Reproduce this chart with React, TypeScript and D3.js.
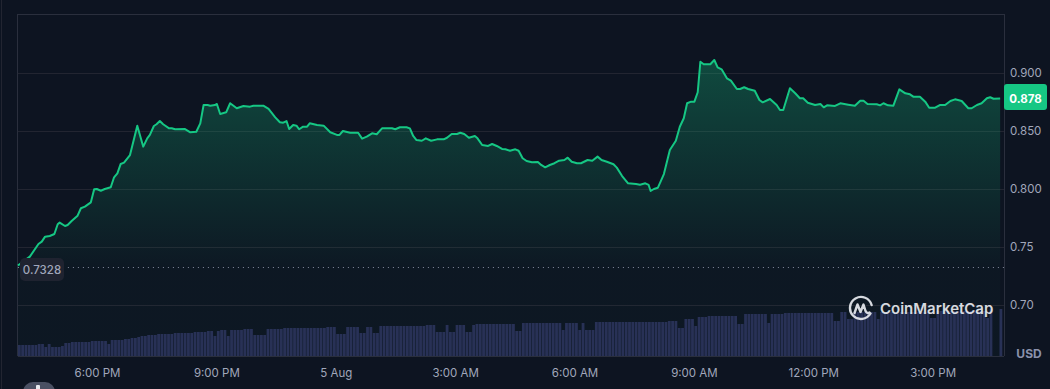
import * as d3 from 'd3';

const START = new Date(2024, 7, 4, 16, 0);

// minutes after 4:00 PM, price in USD
const priceMinutes = [
  0, 6, 18, 31, 36, 41, 48, 55, 60, 63, 71, 75, 81, 90, 95, 101, 110, 115, 119, 125,
  131, 140, 145, 150, 155, 160, 169, 180, 189, 195, 199, 205, 209, 214, 219, 228, 232, 237, 252, 260,
  269, 275, 280, 286, 290, 297,
  300, 305, 314, 320, 330, 340, 350, 355, 370, 378, 388, 395, 400, 405, 409, 415, 420, 424, 430, 436,
  440, 451, 461, 471, 481, 485, 490, 501, 513, 519, 526, 534, 541, 549, 556, 564, 569, 576, 586, 591,
  596, 601, 609, 615, 623, 632, 642, 647, 654, 662, 667, 673, 680, 689, 693, 700, 709, 715, 722, 730,
  735, 742, 750, 755, 761, 767, 775, 784, 789, 795, 802, 809, 816, 824, 829, 835, 843, 849, 859, 866,
  874, 880,
  888, 898, 903, 911, 920, 932, 938, 946, 951, 954, 959, 965, 974, 983, 992, 998, 1004, 1009, 1015, 1020,
  1025, 1029, 1034, 1044, 1050, 1055, 1061, 1069, 1075, 1084, 1089, 1095, 1101, 1111, 1118, 1123, 1134, 1144, 1149, 1154,
  1164, 1172,
  1179, 1184, 1191, 1202, 1210, 1215, 1220, 1232, 1240, 1252, 1262, 1270, 1275, 1281, 1295, 1300, 1305, 1312, 1320, 1329,
  1338, 1345, 1350, 1360, 1368, 1374, 1383, 1390, 1398, 1406, 1413, 1423, 1433, 1438, 1446, 1453, 1461, 1466, 1471, 1481,
];

const priceValues = [
  0.7340, 0.7365, 0.7417, 0.7526, 0.7546, 0.7589, 0.7595, 0.7612, 0.7696, 0.7710,
  0.7681, 0.7690, 0.7724, 0.7770, 0.7834, 0.7848, 0.7885, 0.7997, 0.8000, 0.7985,
  0.8000, 0.8015, 0.8101, 0.8135, 0.8216, 0.8227, 0.8293, 0.8546, 0.8365, 0.8437,
  0.8466, 0.8543, 0.8558, 0.8586, 0.8558, 0.8523, 0.8523, 0.8515, 0.8517, 0.8489,
  0.8494, 0.8566, 0.8724, 0.8724, 0.8718, 0.8724,
  0.8733, 0.8647, 0.8661, 0.8739, 0.8696, 0.8716, 0.8710, 0.8718, 0.8718, 0.8690,
  0.8618, 0.8575, 0.8572, 0.8586, 0.8517, 0.8552, 0.8546, 0.8515, 0.8537, 0.8537,
  0.8566, 0.8552, 0.8546, 0.8489, 0.8466, 0.8466, 0.8500, 0.8485, 0.8485, 0.8434,
  0.8451, 0.8480, 0.8472, 0.8523, 0.8523, 0.8523, 0.8515, 0.8532, 0.8532, 0.8523,
  0.8457, 0.8422, 0.8416, 0.8437, 0.8416, 0.8428, 0.8428, 0.8442, 0.8474, 0.8474,
  0.8485, 0.8474, 0.8442, 0.8457, 0.8437, 0.8379, 0.8371, 0.8388, 0.8371, 0.8345,
  0.8342, 0.8330, 0.8342, 0.8330, 0.8265, 0.8241, 0.8230, 0.8233, 0.8207, 0.8187,
  0.8207, 0.8222, 0.8244, 0.8250, 0.8270, 0.8235, 0.8222, 0.8222, 0.8250, 0.8244,
  0.8279, 0.8250,
  0.8235, 0.8213, 0.8184, 0.8112, 0.8049, 0.8043, 0.8037, 0.8049, 0.8035, 0.7983,
  0.8000, 0.8011, 0.8129, 0.8336, 0.8416, 0.8537, 0.8610, 0.8739, 0.8753, 0.8753,
  0.8834, 0.9097, 0.9075, 0.9075, 0.9112, 0.9049, 0.9032, 0.8954, 0.8934, 0.8862,
  0.8862, 0.8877, 0.8862, 0.8847, 0.8767, 0.8747, 0.8776, 0.8724, 0.8681, 0.8681,
  0.8868, 0.8825,
  0.8782, 0.8782, 0.8744, 0.8724, 0.8733, 0.8704, 0.8721, 0.8716, 0.8739, 0.8727,
  0.8718, 0.8761, 0.8761, 0.8733, 0.8730, 0.8721, 0.8739, 0.8721, 0.8718, 0.8859,
  0.8825, 0.8816, 0.8796, 0.8796, 0.8753, 0.8701, 0.8701, 0.8724, 0.8724, 0.8759,
  0.8773, 0.8759, 0.8696, 0.8696, 0.8724, 0.8739, 0.8782, 0.8791, 0.8778, 0.8780,
];

// 5-minute volume bars, as runs of [number of bars, relative volume]
const volumeRuns = [
  [6, 11], [2, 12], [1, 9], [1, 12], [3, 9], [1, 10], [2, 13], [6, 14], [5, 15], [1, 12],
  [4, 16], [2, 17], [2, 18], [1, 19], [2, 20], [3, 21], [5, 22], [6, 23], [4, 24], [2, 25],
  [1, 20], [1, 25], [2, 26], [1, 20], [4, 26], [3, 27], [4, 21], [5, 27], [13, 28], [3, 29],
  [3, 22], [4, 29], [2, 23], [2, 29], [2, 23], [14, 30], [3, 31], [3, 24], [1, 31], [2, 24],
  [3, 31], [2, 24], [1, 31], [12, 32], [2, 25], [12, 33], [1, 26], [4, 33], [1, 26], [1, 33],
  [3, 26], [22, 34], [3, 35], [2, 28], [3, 37], [1, 30], [3, 39], [9, 40], [2, 32], [7, 42],
  [1, 33], [4, 42], [15, 43], [2, 35], [2, 44], [2, 37], [7, 44], [1, 37], [15, 44], [2, 38],
  [15, 45], [1, 38], [1, 47], [2, 0], [1, 47],
];

const yTicks = [0.9, 0.85, 0.8, 0.75, 0.7];
const yTickLabels = ['0.900', '0.850', '0.800', '0.75', '0.70'];
const openPrice = 0.7328;
const lastPrice = 0.878;

const W = 1050;
const H = 389;
const left = 17.9;
const right = 1004;
const top = 14;
const bottom = 356;

const BG = '#0d1421';
const GREEN = '#16c784';
const GRID = '#222531';
const TEXT = '#a1a7bb';
const FONT = 'Inter, "Noto Sans", sans-serif';

const addMin = (m: number) => new Date(START.getTime() + m * 60000);

export default function App() {
  const x = d3.scaleTime()
    .domain([START, addMin(24.78 * 60)])
    .range([left, right]);
  const y = d3.scaleLinear().domain([0.7, 0.9]).range([305, 73]);
  const yVol = d3.scaleLinear().domain([0, 50]).range([bottom, bottom - 50]);

  const prices = priceMinutes.map((m, i) => ({ t: addMin(m), v: priceValues[i] }));

  const line = d3.line<{ t: Date; v: number }>()
    .x(d => x(d.t))
    .y(d => y(d.v));
  const area = d3.area<{ t: Date; v: number }>()
    .x(d => x(d.t))
    .y0(bottom)
    .y1(d => y(d.v));

  const vols: { t: Date; v: number }[] = [];
  let k = 0;
  volumeRuns.forEach(([n, v]) => {
    for (let j = 0; j < n; j++) {
      vols.push({ t: addMin(k * 5), v });
      k++;
    }
  });
  const barW = x(addMin(5)) - x(START);

  const xTicks = d3.timeHour.every(3)!.range(addMin(60), addMin(24.7 * 60));
  const fmtTick = (d: Date) =>
    d.getHours() === 0 ? d3.timeFormat('%-d %b')(d) : d3.timeFormat('%-I:%M %p')(d);

  return (
    <div style={{ position: 'fixed', left: 0, top: 0, width: W, height: H, background: BG }}>
      <svg width={W} height={H} viewBox={`0 0 ${W} ${H}`} style={{ display: 'block', fontFamily: FONT }}>
        <defs>
          <linearGradient id="areaFill" x1="0" y1="0" x2="0" y2="1" gradientUnits="userSpaceOnUse"
            gradientTransform="" >
          </linearGradient>
          <linearGradient id="fill2" gradientUnits="userSpaceOnUse" x1="0" y1={y(0.91)} x2="0" y2={y(0.73)}>
            <stop offset="0" stopColor={GREEN} stopOpacity={0.3} />
            <stop offset="1" stopColor={GREEN} stopOpacity={0.02} />
          </linearGradient>
        </defs>
        <rect width={W} height={H} fill={BG} />
        <line x1={1.5} x2={1.5} y1={0} y2={H} stroke={GRID} />

        {/* frame */}
        <line x1={left} x2={right} y1={top + 0.5} y2={top + 0.5} stroke="#2a2f3d" />
        <line x1={left - 0.4} x2={left - 0.4} y1={top} y2={bottom} stroke="#2a2f3d" />
        <line x1={right + 0.5} x2={right + 0.5} y1={top} y2={bottom} stroke="#2a2f3d" />
        <line x1={left} x2={right} y1={bottom + 0.5} y2={bottom + 0.5} stroke="#2a2f3d" />

        {yTicks.map(t => (
          <line key={t} x1={left} x2={right} y1={Math.round(y(t)) + 0.5} y2={Math.round(y(t)) + 0.5} stroke={GRID} />
        ))}

        <path d={area(prices) || ''} fill="url(#fill2)" />

        {vols.map((d, i) => (
          d.v > 0 ? (
            <rect key={i} x={x(d.t)} y={yVol(d.v)} width={barW - 0.5} height={bottom - yVol(d.v)} fill="#283156" />
          ) : null
        ))}

        <path d={line(prices) || ''} fill="none" stroke={GREEN} strokeWidth={2} strokeLinejoin="round" />

        <line x1={left} x2={right} y1={Math.round(y(openPrice)) + 0.5} y2={Math.round(y(openPrice)) + 0.5}
          stroke={TEXT} strokeOpacity={0.8} strokeDasharray="1 4" />

        {/* y axis labels */}
        {yTicks.map((t, i) => (
          <text key={t} x={1010} y={y(t)} dy="0.35em" fill={TEXT} fontSize={11.5}>{yTickLabels[i]}</text>
        ))}

        {/* x axis labels */}
        {xTicks.map(d => (
          <text key={+d} x={x(d)} y={373} dy="0.35em" textAnchor="middle" fill={TEXT} fontSize={11.5}>{fmtTick(d)}</text>
        ))}

        {/* open price tag */}
        <rect x={20} y={258} width={44} height={23} rx={5} fill="#1f2330" />
        <text x={42} y={269.5} dy="0.35em" textAnchor="middle" fill={TEXT} fontSize={11.5} fontWeight={500}>{openPrice}</text>

        {/* last price tag */}
        <rect x={1004} y={84} width={43} height={26} rx={3} fill={GREEN} />
        <text x={1025.5} y={y(lastPrice)} dy="0.35em" textAnchor="middle" fill="#fff" fontSize={11.5} fontWeight={700}>{lastPrice}</text>

        <text x={1029} y={354} dy="0.35em" textAnchor="middle" fill="#8a91ab" fontSize={12} fontWeight={700}>USD</text>

        {/* watermark */}
        <g transform="translate(861,308)" stroke="#e8eaef" strokeWidth={2.4} fill="none" strokeLinecap="round" strokeLinejoin="round" opacity={0.92}>
          <path d="M 9.5 5.5 A 11 11 0 1 1 10.6 -3" />
          <path d="M -6.5 5 L -3.5 -3.5 L -0.5 4 L 2.5 -3.5 L 4.5 3 Q 6 6 8.5 4.5" />
        </g>
        <text x={880} y={309} dy="0.35em" fill="#e8eaef" fontSize={15} fontWeight={600} opacity={0.92}>CoinMarketCap</text>

        {/* partially visible control */}
        <rect x={23} y={382} width={32} height={20} rx={10} fill="#4a5063" />
        <rect x={36} y={385} width={4} height={6} rx={1} fill="#e8eaef" />
      </svg>
    </div>
  );
}
